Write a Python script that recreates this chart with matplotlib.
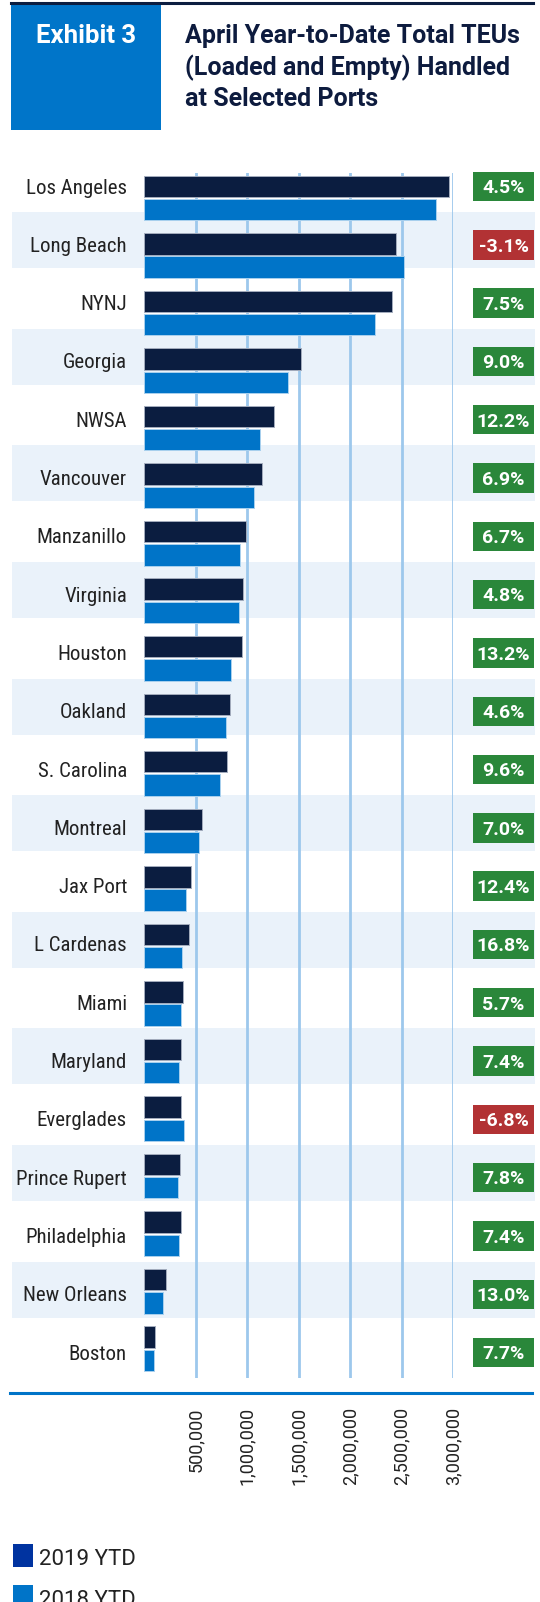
import matplotlib
matplotlib.use("Agg")
import matplotlib.pyplot as plt
from matplotlib import font_manager
from matplotlib.patches import Rectangle
from matplotlib.lines import Line2D
import matplotlib.transforms as mtransforms
import numpy as np

ports = ["Los Angeles", "Long Beach", "NYNJ", "Georgia", "NWSA", "Vancouver",
         "Manzanillo", "Virginia", "Houston", "Oakland", "S. Carolina", "Montreal",
         "Jax Port", "L Cardenas", "Miami", "Maryland", "Everglades", "Prince Rupert",
         "Philadelphia", "New Orleans", "Boston"]
ytd_2019 = [2960000, 2447000, 2408000, 1523000, 1261000, 1142000, 990000, 960000,
            952000, 835000, 807000, 566000, 459000, 437000, 378000, 362000, 362000,
            349000, 362000, 213000, 107000]
ytd_2018 = [2830000, 2523000, 2241000, 1397000, 1125000, 1067000, 931000, 922000,
            844000, 796000, 737000, 534000, 407000, 369000, 359000, 340000, 388000,
            330000, 340000, 188000, 97000]
pct_change = [4.5, -3.1, 7.5, 9.0, 12.2, 6.9, 6.7, 4.8, 13.2, 4.6, 9.6, 7.0,
              12.4, 16.8, 5.7, 7.4, -6.8, 7.8, 7.4, 13.0, 7.7]
ticks = [500000, 1000000, 1500000, 2000000, 2500000, 3000000]
legend_labels = ["2019 YTD", "2018 YTD"]
title_lines = ["April Year-to-Date Total TEUs",
               "(Loaded and Empty) Handled",
               "at Selected Ports"]

W, H = 540, 1602
NAVY = "#0b1d40"
BLUE = "#0074c8"
GRID = "#9dc8ec"
BAND = "#eaf2fa"
GREEN = "#2a873a"
RED = "#b23234"
TEXT = "#222222"

names = {f.name for f in font_manager.fontManager.ttflist}
cond = next((n for n in ["Roboto Condensed", "Liberation Sans Narrow"] if n in names), None)
label_font = cond if cond else "Roboto"
label_size = 15 if cond else 13

plt.rcParams['font.family'] = ['Roboto', 'DejaVu Sans']

fig = plt.figure(figsize=(W / 100, H / 100), dpi=100)
fig.patch.set_facecolor("white")


def fx(x):
    return x / W


def fy(y):
    return 1 - y / H


# header
fig.add_artist(Line2D([fx(11), fx(533)], [fy(3.2), fy(3.2)], color=NAVY, lw=2.2))
fig.add_artist(Rectangle((fx(11), fy(130)), fx(161.5) - fx(11), (130 - 4.7) / H,
                         transform=fig.transFigure, color="#0075c9", lw=0))
fig.text(fx(36.5), fy(43.3), "Exhibit 3", color="white", fontsize=18.5,
         fontweight="bold", va="baseline")
for k, line in enumerate(title_lines):
    fig.text(fx(185), fy(43.3 + k * 31.6), line, color="#0d1b3e", fontsize=18,
             fontweight="bold", va="baseline")

# plot area: zero at x=144px, 3M at 453.3px; rows 58.3px apart
x0, x1 = 144, 453.3
top, bot = 172.8, 1377.7
row0, pitch = 181.9, 58.3
ax = fig.add_axes([fx(x0), fy(bot), (x1 - x0) / W, (bot - top) / H])
ax.set_xlim(0, 3000000)
ax.set_ylim((bot - row0) / pitch, (top - row0) / pitch)
ax.patch.set_alpha(0)
for s in ax.spines.values():
    s.set_visible(False)
ax.set_yticks([])

idx = np.arange(len(ports))
span = x1 - x0
# alternating bands
for i in idx[1::2]:
    ax.axhspan(i - 0.48, i + 0.48, xmin=(12 - x0) / span, xmax=(535 - x0) / span,
               color=BAND, lw=0, zorder=0.1, clip_on=False)
for t in ticks:
    ax.axvline(t, color=GRID, lw=2, zorder=1)

bar_pitch = 57.54 / pitch
dark_y = idx * bar_pitch + 0.077
light_y = dark_y + 0.398
ax.barh(dark_y, ytd_2019, height=0.367, color=NAVY, edgecolor="#a3acbd", lw=0.7, zorder=3)
ax.barh(light_y, ytd_2018, height=0.367, color=BLUE, edgecolor="#a9d0ee", lw=0.7, zorder=3)

ax.set_xticks(ticks)
ax.set_xticklabels([f"{t:,}" for t in ticks])
ax.tick_params(axis="x", length=0, pad=21.3, labelsize=13, labelcolor=TEXT,
               labelrotation=90)

trans = mtransforms.blended_transform_factory(ax.transAxes, ax.transData)
for i, name in enumerate(ports):
    ax.text((127 - x0) / span, i + 0.2, name, transform=trans, ha="right",
            va="baseline", fontsize=label_size, family=[label_font, "DejaVu Sans"],
            color=TEXT, clip_on=False)
    c = GREEN if pct_change[i] >= 0 else RED
    ax.add_patch(Rectangle(((473 - x0) / span, i + 0.08 - 0.252), 61 / span, 0.504,
                           transform=trans, color=c, lw=0, clip_on=False, zorder=4))
    ax.text((503.5 - x0) / span, i + 0.08 + 0.117, f"{pct_change[i]:.1f}%",
            transform=trans, ha="center", va="baseline", color="white",
            fontsize=14, fontweight="bold", zorder=5, clip_on=False)

# axis rule
fig.add_artist(Line2D([fx(10), fx(532)], [fy(1393.3), fy(1393.3)], color=BLUE, lw=2.2))

# legend
for k, (lab, c) in enumerate(zip(legend_labels, ["#0033a0", BLUE])):
    ytop = 1544.3 + k * 40.7
    fig.add_artist(Rectangle((fx(13.2), fy(ytop + 22.4)), 19.5 / W, 22.4 / H,
                             transform=fig.transFigure, color=c, lw=0))
    fig.text(fx(39.2), fy(1565 + k * 40.7), lab, fontsize=16, color=TEXT,
             va="baseline")

fig.savefig("out.png", dpi=100)
